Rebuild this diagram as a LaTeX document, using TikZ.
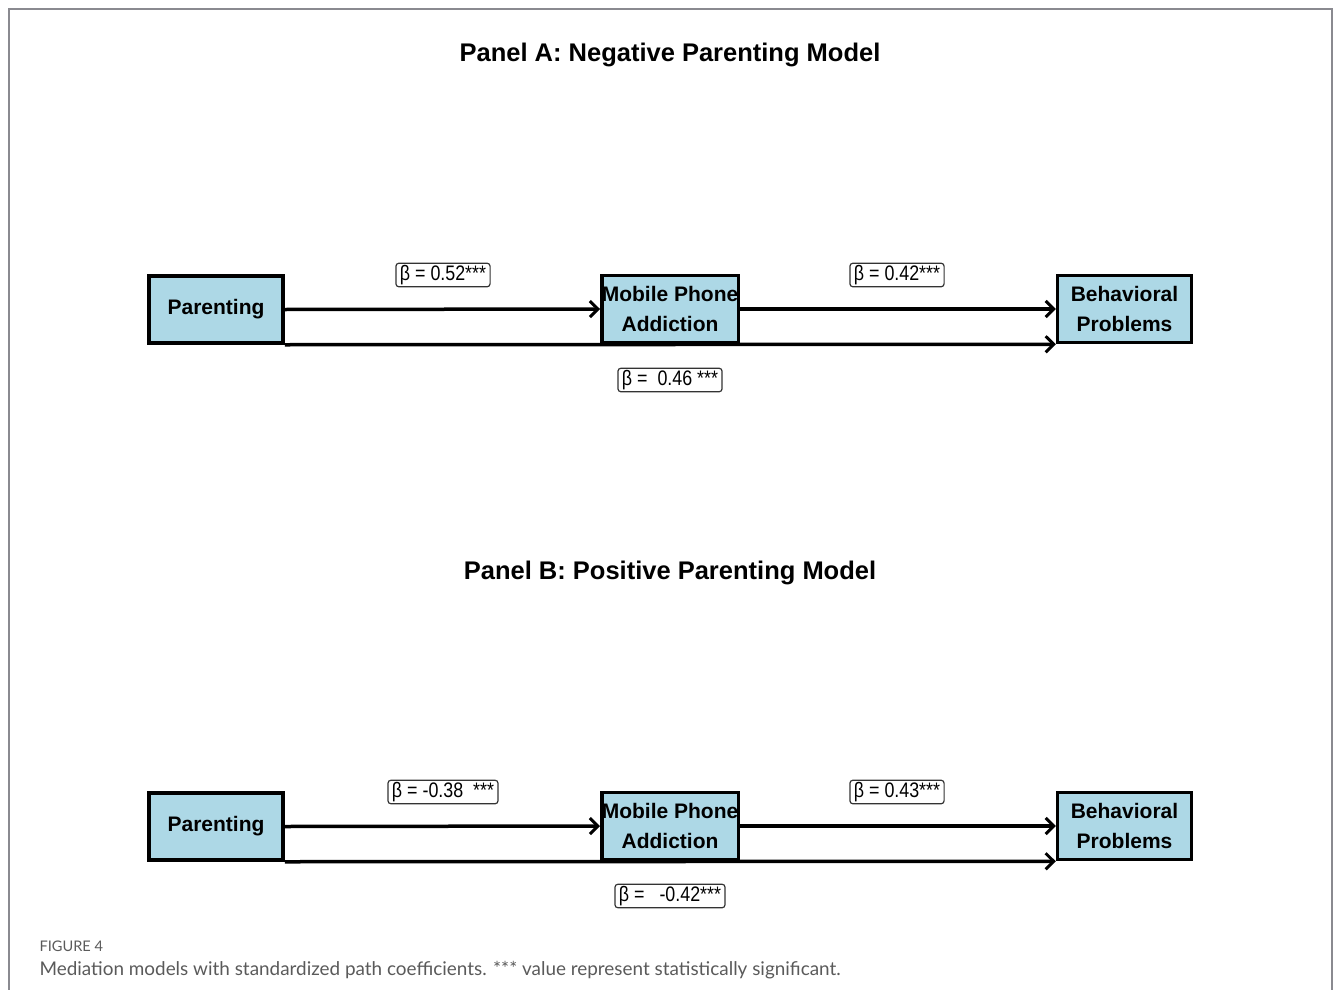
\documentclass[tikz,border=0pt]{standalone}
\usepackage{fontspec}
\setmainfont{Liberation Sans}
\newfontfamily\capfont{Lato}
\newfontfamily\narrowfont[FakeStretch=0.85]{Liberation Sans}
\usetikzlibrary{arrows.meta}
\definecolor{boxblue}{HTML}{ADD8E6}
\definecolor{framegray}{HTML}{8A8A90}
\definecolor{capgray}{HTML}{5A5A5A}
\begin{document}
\begin{tikzpicture}[x=1pt,y=-1pt,
  var/.style={draw=black, line width=3.5pt, fill=boxblue, minimum width=134pt, minimum height=67pt, inner sep=0pt, align=center, font=\fontsize{21}{30}\selectfont\bfseries},
  arr/.style={line width=3.5pt, -{Straight Barb[length=8pt,width=16pt,line width=3pt]}},
  coef/.style={draw=black!80, line width=1.2pt, rounded corners=3pt, fill=white, inner xsep=4pt, inner ysep=2pt, font=\fontsize{21}{24}\selectfont\narrowfont},
  ttl/.style={font=\fontsize{25.5}{30}\selectfont\bfseries},
  captext/.style={anchor=west, text=capgray}
]
\useasboundingbox (0,0) rectangle (1333,990);
\draw[framegray, line width=1.5pt] (9,990) -- (9,9) -- (1332,9) -- (1332,990);

% Panel A
\node[ttl] (tA) at (670,55) {Panel A: Negative Parenting Model};
\node[var] (pA) at (216,309.5) {Parenting};
\node[var] (mA) at (670,309) {Mobile Phone\\Addiction};
\node[var] (bA) at (1124.5,309) {Behavioral\\Problems};
\draw[arr] (pA.east) -- (mA.west);
\draw[arr] (mA.east) -- (bA.west);
\draw[arr] (pA.south east) -- (bA.south west);
\node[coef] (cA1) at (443,275) {β = 0.52***};
\node[coef] (cA2) at (897,275) {β = 0.42***};
\node[coef] (cA3) at (670,380) {β = \ 0.46 ***};

% Panel B
\node[ttl] (tB) at (670,573) {Panel B: Positive Parenting Model};
\node[var] (pB) at (216,826.5) {Parenting};
\node[var] (mB) at (670,826) {Mobile Phone\\Addiction};
\node[var] (bB) at (1124.5,826) {Behavioral\\Problems};
\draw[arr] (pB.east) -- (mB.west);
\draw[arr] (mB.east) -- (bB.west);
\draw[arr] (pB.south east) -- (bB.south west);
\node[coef] (cB1) at (443,792) {β = -0.38 \ ***};
\node[coef] (cB2) at (897,792) {β = 0.43***};
\node[coef] (cB3) at (670,896) {β = \ \ -0.42***};

% Caption
\node[captext, font=\capfont\fontsize{14.6}{17}\selectfont] (f4) at (36,946) {FIGURE 4};
\node[captext, font=\capfont\fontsize{18.9}{22}\selectfont] (ct) at (36,970) {Mediation models with standardized path coefficients. *** value represent statistically significant.};
\end{tikzpicture}
\end{document}
